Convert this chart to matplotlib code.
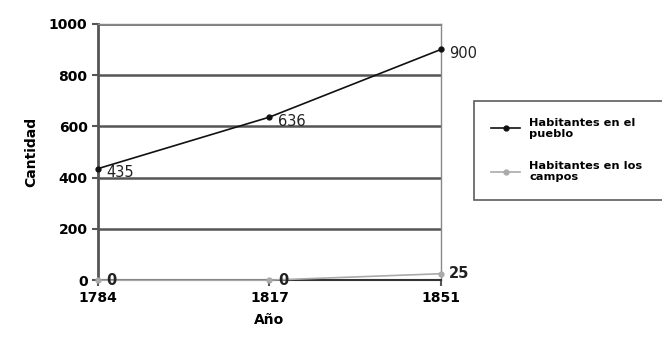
import matplotlib.pyplot as plt

years = ["1784", "1817", "1851"]
pueblo = [435, 636, 900]
campos = [0, 0, 25]
y_ticks = [0, 200, 400, 600, 800, 1000]

plt.rcParams['font.family'] = ['DejaVu Sans']

fig = plt.figure(figsize=(6.62, 3.61), dpi=100)
ax = fig.add_axes([0.148, 0.224, 0.518, 0.710])

x = range(len(years))
ax.plot(x, pueblo, color='#111111', lw=1.2, marker='o', ms=3.5,
        label='Habitantes en el\npueblo', zorder=4, clip_on=False)
ax.plot(x, campos, color='#aaaaaa', lw=1.2, marker='o', ms=3.5,
        label='Habitantes en los\ncampos', zorder=3, clip_on=False)

# value labels right of each point
for xi, v in zip(x, pueblo):
    ax.annotate(str(v), (xi, v), xytext=(6, -3), textcoords='offset points',
                fontsize=10.5, color='#222222', va='center', ha='left')
for xi, v in zip(x, campos):
    ax.annotate(str(v), (xi, v), xytext=(6, 0), textcoords='offset points',
                fontsize=10.5, fontweight='bold', color='#222222', va='center', ha='left')

ax.set_xlim(0, 2)
ax.set_ylim(0, 1000)
ax.set_xticks(list(x))
ax.set_xticklabels(years)
ax.set_yticks(y_ticks)
ax.tick_params(axis='both', labelsize=10, length=4, width=1.5, color='#555555')
for lab in ax.get_xticklabels() + ax.get_yticklabels():
    lab.set_fontweight('bold')

ax.grid(axis='y', color='#555555', lw=1.8)
ax.set_axisbelow(True)
for side in ['top', 'right']:
    ax.spines[side].set_color('#888888')
    ax.spines[side].set_linewidth(1.0)
ax.spines['left'].set_color('#555555')
ax.spines['left'].set_linewidth(2.0)
ax.spines['bottom'].set_color('#333333')
ax.spines['bottom'].set_linewidth(1.5)

ax.set_ylabel('Cantidad', fontsize=10, fontweight='bold', labelpad=8)
ax.set_xlabel('Año', fontsize=10, fontweight='bold', labelpad=6)

leg = ax.legend(loc='upper left', bbox_to_anchor=(1.079, 0.273, 0.60, 0.45),
                mode='expand', fontsize=8.2,
                frameon=True, fancybox=False, edgecolor='#333333',
                labelspacing=1.9, handlelength=2.6, borderpad=1.5)
leg.get_frame().set_linewidth(1.2)
for t in leg.get_texts():
    t.set_fontweight('bold')

fig.savefig('out.png', dpi=100)
